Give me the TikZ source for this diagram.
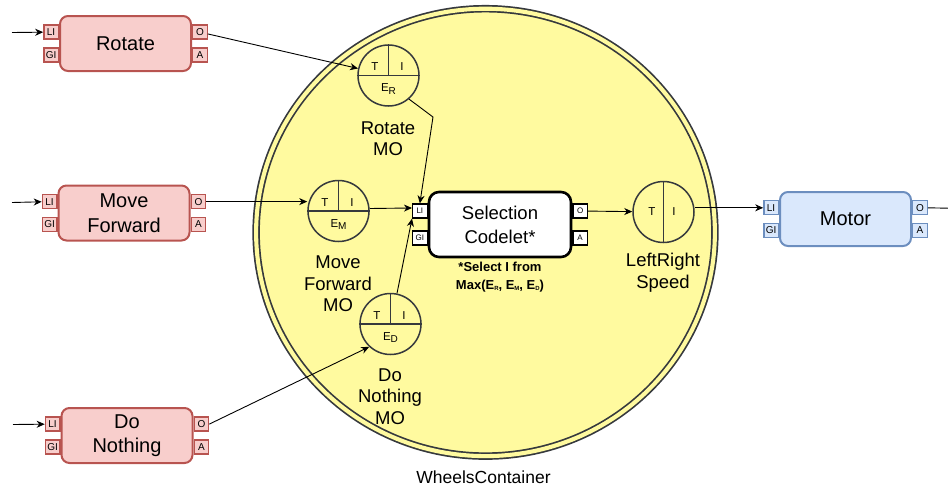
\documentclass[tikz,border=0pt]{standalone}
\usepackage{fontspec}
\setmainfont{Liberation Sans}
\usetikzlibrary{arrows.meta,calc,shapes.geometric}
\definecolor{redfill}{HTML}{F8CECC}
\definecolor{redline}{HTML}{B85450}
\definecolor{bluefill}{HTML}{DAE8FC}
\definecolor{blueline}{HTML}{6C8EBF}
\definecolor{yellowfill}{HTML}{FFFA9F}
\definecolor{darkline}{HTML}{36393D}

\tikzset{
  codelet/.style={draw=redline, fill=redfill, line width=2pt, rounded corners=8pt,
    minimum width=131pt, minimum height=55pt, inner sep=0pt, align=center,
    font=\fontsize{20}{24.5}\selectfont},
  actuator/.style={codelet, draw=blueline, fill=bluefill, minimum height=54pt},
  selector/.style={draw=black, fill=white, line width=2.6pt, rounded corners=10pt,
    minimum width=142pt, minimum height=65pt, inner sep=0pt, align=center,
    font=\fontsize{18.5}{24}\selectfont},
  redport/.style={draw=redline, fill=redfill, line width=1.3pt, minimum width=14.5pt,
    minimum height=14pt, inner sep=0pt, font=\fontsize{10}{10}\selectfont},
  blueport/.style={redport, draw=blueline, fill=bluefill},
  whiteport/.style={redport, draw=black, fill=white, line width=1.2pt,
    font=\fontsize{8}{9}\selectfont},
  memory/.style={circle, draw=darkline, fill=yellowfill, line width=1.5pt,
    minimum size=61pt, inner sep=0pt},
  divider/.style={draw=darkline, line width=1.1pt},
  slot/.style={inner sep=0pt, font=\fontsize{11.5}{12}\selectfont},
  caption/.style={align=center, inner sep=0pt, font=\fontsize{18.5}{21.5}\selectfont},
  link/.style={draw=black, line width=0.9pt, -{Stealth[length=8pt,width=7pt,inset=2.5pt]}},
}

% four side ports of a codelet box
\newcommand\addports[2]{%
  \node[#2, anchor=east] (#1LI) at ($(#1.north west)!0.3!(#1.south west)$) {LI};
  \node[#2, anchor=east] (#1GI) at ($(#1.north west)!0.7!(#1.south west)$) {GI};
  \node[#2, anchor=west] (#1O)  at ($(#1.north east)!0.3!(#1.south east)$) {O};
  \node[#2, anchor=west] (#1A)  at ($(#1.north east)!0.7!(#1.south east)$) {A};
}

% a memory object split into T | I over E
\newcommand\splitmemory[2]{%
  \draw[divider] (#1.west) -- (#1.east) (#1.north) -- (#1.center);
  \node[slot] at ($(#1.center)+(-13.5,-8.5)$) {T};
  \node[slot] at ($(#1.center)+(13.5,-8.5)$) {I};
  \node[slot] at ($(#1.center)+(0,13.5)$) {E\raisebox{-2.5pt}{\fontsize{10}{10}\selectfont #2}};
}

\begin{document}
\begin{tikzpicture}[x=1pt,y=-1pt]
\useasboundingbox (0,0) rectangle (948,488);

% container
\node[ellipse, draw=darkline, line width=1.7pt, double=yellowfill, double distance=4.1pt,
  fill=yellowfill, minimum width=458.8pt, minimum height=447.4pt, inner sep=0pt]
  (wheels) at (485.5,232.4) {};
\node[inner sep=0pt, font=\fontsize{17.5}{20}\selectfont] (wheelslabel) at (483.5,477.5) {WheelsContainer};

% codelets outside the container
\node[codelet] (rot) at (125.5,43.5) {Rotate};
\node[codelet] (mf) at (124,213) {Move\\Forward};
\node[codelet] (dn) at (127,435.5) {Do\\Nothing};
\node[actuator] (motor) at (845.5,219) {Motor};
\addports{rot}{redport}
\addports{mf}{redport}
\addports{dn}{redport}
\addports{motor}{blueport}

% selection codelet
\node[selector] (sel) at (500,224.5) {Selection\\Codelet*};
\addports{sel}{whiteport}
\node[align=center, inner sep=0pt, font=\bfseries\fontsize{13}{18}\selectfont] (selnote) at (500,277)
  {*Select I from\\Max(E{\fontsize{6}{6}\selectfont\raisebox{-1pt}{R}}, E{\fontsize{6}{6}\selectfont\raisebox{-1pt}{M}}, E{\fontsize{6}{6}\selectfont\raisebox{-1pt}{D}})};

% memory objects
\node[memory] (rotMO) at (388.5,75.5) {};
\node[memory] (mfMO) at (338.5,211) {};
\node[memory] (dnMO) at (390.5,324) {};
\node[memory] (lrs) at (663.5,212) {};
\splitmemory{rotMO}{R}
\splitmemory{mfMO}{M}
\splitmemory{dnMO}{D}
\draw[divider] (lrs.north) -- (lrs.south);
\node[slot] at ($(lrs.center)+(-11.5,0)$) {T};
\node[slot] at ($(lrs.center)+(10.5,0)$) {I};

\node[caption] (rotMOlabel) at (388,138.5) {Rotate\\MO};
\node[caption] (mfMOlabel) at (338,284) {Move\\Forward\\MO};
\node[caption] (dnMOlabel) at (390,396.5) {Do\\Nothing\\MO};
\node[caption] (lrslabel) at (663,272.5) {LeftRight\\Speed};

% free ends
\coordinate (inRot) at (12,32.5);
\coordinate (inMf) at (12,202.5);
\coordinate (inDn) at (13,424.5);
\coordinate (outMotor) at (948,208.2);
\coordinate (bend) at (433,117);

% connectors
\draw[link] (inRot) -- (rotLI);
\draw[link] (inMf) -- (mfLI);
\draw[link] (inDn) -- (dnLI);
\draw[link] (rotO) -- (rotMO);
\draw[link] (mfO.east) -- (mfO.east -| mfMO.west);
\draw[link] (dnO.east) -- (dnMO.227);
\draw[link] (rotMO.-49) -- (bend) -- (selLI.north);
\draw[link] ($(mfMO.east)+(0,-2.5)$) -- ($(selLI.west)+(0,-3)$);
\draw[link] (dnMO.78) -- (selLI.south west);
\draw[link] (selO) -- (lrs);
\draw[link] (lrs.east |- motorLI.west) -- (motorLI.west);
\draw[draw=black, line width=0.9pt] (motorO.east) -- (outMotor);
\end{tikzpicture}
\end{document}
